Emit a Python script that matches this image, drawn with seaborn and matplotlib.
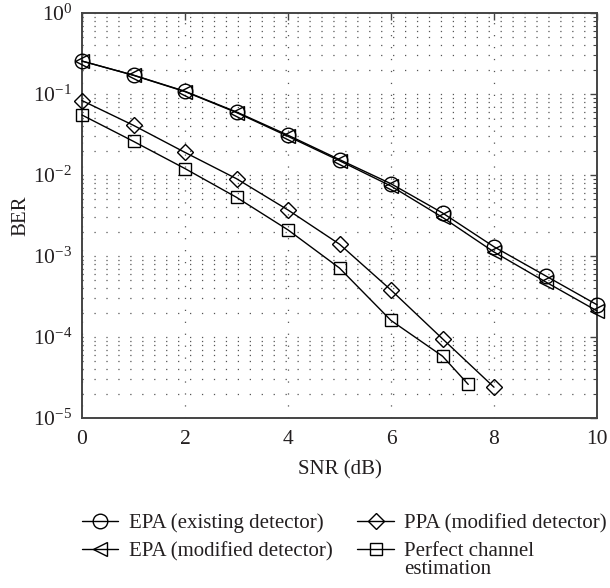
import numpy as np
import pandas as pd
import matplotlib
matplotlib.use("Agg")
import matplotlib.pyplot as plt
import seaborn as sns
from matplotlib.ticker import LogLocator, FixedLocator

snr = [0, 1, 2, 3, 4, 5, 6, 7, 8, 9, 10]
epa_existing = [0.255, 0.171, 0.108, 0.060, 0.031, 0.0155, 0.0078, 0.0034, 0.00130, 0.00057, 0.00025]
epa_modified = [0.255, 0.170, 0.107, 0.059, 0.030, 0.0150, 0.0073, 0.0030, 0.00112, 0.00048, 0.00021]
snr_ppa = [0, 1, 2, 3, 4, 5, 6, 7, 8]
ppa_modified = [0.083, 0.041, 0.019, 0.0090, 0.0037, 0.00140, 0.00038, 0.000095, 0.000024]
snr_perfect = [0, 1, 2, 3, 4, 5, 6, 7, 7.5]
perfect = [0.055, 0.026, 0.012, 0.0053, 0.0021, 0.00071, 0.00016, 0.000058, 0.000026]

labels = ["EPA (existing detector)", "EPA (modified detector)",
          "PPA (modified detector)", "Perfect channel"]
x_ticks = [0, 2, 4, 6, 8, 10]

sns.set_theme(style="white")
plt.rcParams["font.family"] = ["Liberation Serif", "DejaVu Serif"]
plt.rcParams["mathtext.fontset"] = "custom"
plt.rcParams["mathtext.rm"] = "Liberation Serif"
plt.rcParams["mathtext.it"] = "Liberation Serif:italic"
plt.rcParams["lines.scale_dashes"] = False

text_col = "#231f20"
spine_col = "#444444"

fig = plt.figure(figsize=(6.10, 5.88), dpi=100)
ax = fig.add_axes([82/610, 1-418/588, (597-82)/610, (418-13)/588])

series = [
    (snr, epa_existing, "o", labels[0]),
    (snr, epa_modified, "<", labels[1]),
    (snr_ppa, ppa_modified, "D", labels[2]),
    (snr_perfect, perfect, "s", labels[3]),
]
sizes = {"o": 10.5, "<": 10.5, "D": 8.5, "s": 8.5}
for xs, ys, m, lab in series:
    df = pd.DataFrame({"SNR": xs, "BER": ys})
    sns.lineplot(data=df, x="SNR", y="BER", ax=ax, color="black", lw=1.0,
                 marker=m, markersize=sizes[m], markerfacecolor="none",
                 markeredgecolor="black", markeredgewidth=1.0, clip_on=False,
                 label=lab, zorder=3)

ax.set_yscale("log")
ax.set_xlim(0, 10)
ax.set_ylim(1e-5, 1)
ax.xaxis.set_major_locator(FixedLocator(x_ticks))
ax.yaxis.set_major_locator(LogLocator(base=10, numticks=10))
ax.yaxis.set_minor_locator(LogLocator(base=10, subs=np.arange(2, 10), numticks=20))

grid_kw = dict(color="#555555", lw=0.9, linestyle=(0, (0.9, 7.7)))
ax.grid(True, which="major", axis="both", **grid_kw)
ax.grid(True, which="minor", axis="y", **grid_kw)

for s in ax.spines.values():
    s.set_color(spine_col)
    s.set_linewidth(1.4)
    s.set_visible(True)

ax.tick_params(which="both", direction="in", top=True, right=True,
               colors=spine_col, labelcolor=text_col, labelsize=15.5)
ax.tick_params(which="major", length=5, width=1.0, pad=7)
ax.tick_params(axis="x", which="major", pad=9)
ax.tick_params(which="minor", length=3, width=0.8)

ax.set_xlabel("SNR (dB)", fontsize=15, color=text_col, labelpad=8)
ax.set_ylabel("BER", fontsize=15, color=text_col, labelpad=2)

h, l = ax.get_legend_handles_labels()
ax.get_legend().remove()
leg = fig.legend(h, l, loc="upper left", bbox_to_anchor=(63/610, 1-495/588),
                 ncol=2, frameon=False, fontsize=15, handlelength=1.75,
                 handletextpad=0.5, columnspacing=1.2, labelspacing=0.4,
                 labelcolor=text_col)

fig.canvas.draw()
t = leg.get_texts()[3]
bb = t.get_window_extent()
inv = fig.transFigure.inverted()
x0, y0 = inv.transform((bb.x0, bb.y0))
fig.text(x0, y0 + 1/588, "estimation", fontsize=15, color=text_col,
         ha="left", va="top")

fig.savefig("out.png", dpi=100)
